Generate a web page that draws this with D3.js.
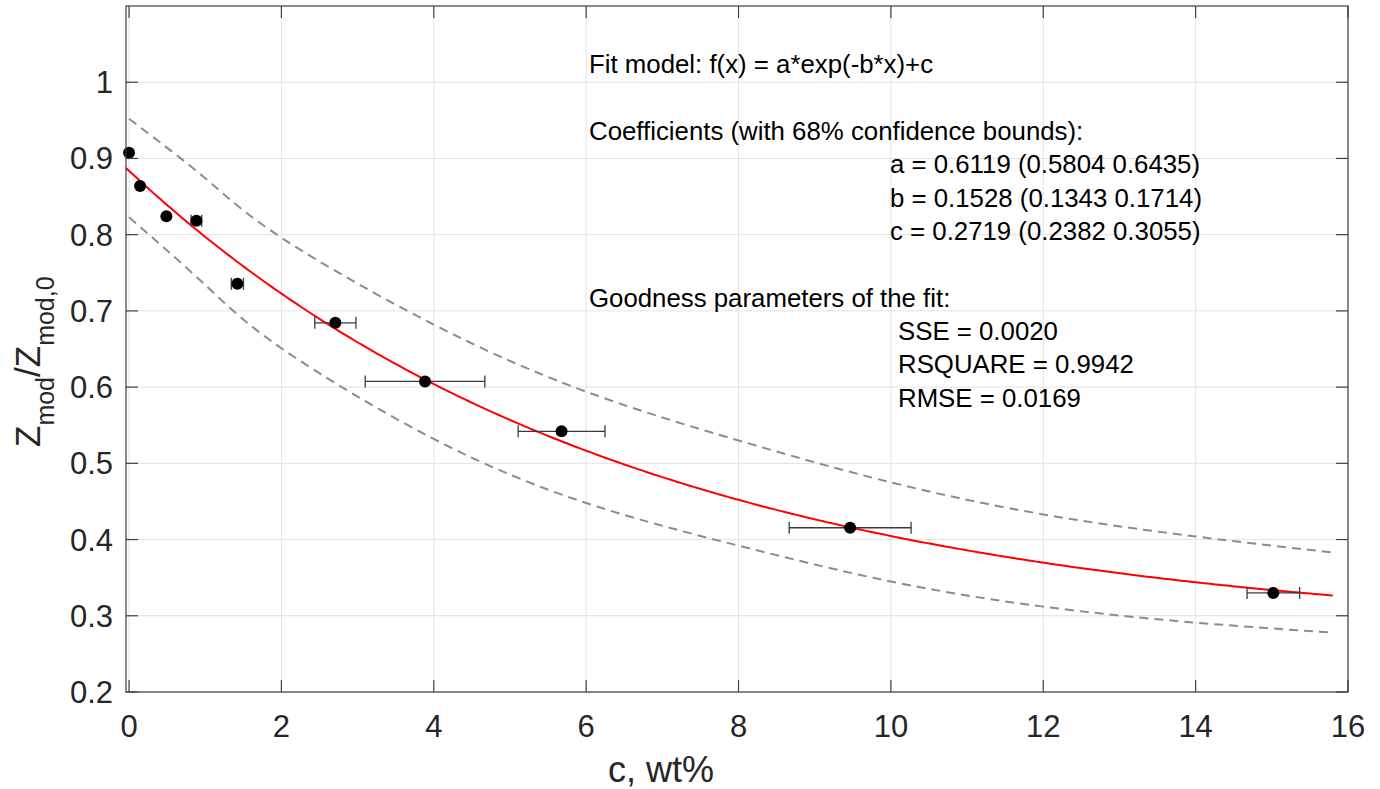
<!DOCTYPE html>
<html>
<head>
<meta charset="utf-8">
<script src="https://cdn.jsdelivr.net/npm/d3@7"></script>
<style>
  html, body { margin: 0; padding: 0; background: #fff; }
  svg { display: block; font-family: "Liberation Sans", Arial, Helvetica, sans-serif; }
</style>
</head>
<body>
<svg id="chart" width="1380" height="789"></svg>
<script>
// Measured concentration (wt%) with its uncertainty, and normalised impedance
const concentration = [0, 0.145, 0.49, 0.884, 1.422, 2.708, 3.885, 5.677, 9.465, 15.02];
const concentrationErr = [0, 0, 0, 0.07, 0.08, 0.27, 0.785, 0.57, 0.80, 0.345];
const zRatio = [0.9074, 0.8637, 0.8243, 0.8182, 0.7355, 0.6844, 0.6075, 0.542, 0.4155, 0.330];

// Fitted coefficients of f(x) = a*exp(-b*x)+c
const coefA = 0.6119;
const coefB = 0.1528;
const coefC = 0.2719;
const fitRange = [-0.04, 15.8];

// Prediction bounds of the fit
const boundX = [0, 1, 2, 4, 6, 8, 10, 12, 14, 15.8];
const boundUpper = [0.952, 0.874, 0.796, 0.682, 0.594, 0.530, 0.475, 0.433, 0.404, 0.383];
const boundLower = [0.823, 0.734, 0.651, 0.532, 0.448, 0.392, 0.345, 0.312, 0.291, 0.278];

// Axis ticks
const xTicks = [0, 2, 4, 6, 8, 10, 12, 14, 16];
const yTicks = [0.2, 0.3, 0.4, 0.5, 0.6, 0.7, 0.8, 0.9, 1.0];

// Fit report text
const modelLines = ["Fit model: f(x) = a*exp(-b*x)+c", "Coefficients (with 68% confidence bounds):"];
const coefLines = ["a = 0.6119 (0.5804 0.6435)", "b = 0.1528 (0.1343 0.1714)", "c = 0.2719 (0.2382 0.3055)"];
const goodnessTitle = "Goodness parameters of the fit:";
const goodnessLines = ["SSE = 0.0020", "RSQUARE = 0.9942", "RMSE = 0.0169"];

const svg = d3.select("#chart");
const plot = { left: 126, right: 1348, top: 6, bottom: 692 };

const x = d3.scaleLinear().domain([-0.04, 16]).range([plot.left, plot.right]);
const y = d3.scaleLinear().domain([0.2, 1.1]).range([plot.bottom, plot.top]);

// Grid
const grid = svg.append("g").attr("stroke", "#e3e3e3").attr("stroke-width", 1);
grid.selectAll("line.gx").data(xTicks).join("line")
  .attr("x1", d => x(d)).attr("x2", d => x(d))
  .attr("y1", plot.top).attr("y2", plot.bottom);
grid.selectAll("line.gy").data(yTicks).join("line")
  .attr("x1", plot.left).attr("x2", plot.right)
  .attr("y1", d => y(d)).attr("y2", d => y(d));

// Prediction bounds (dashed)
const boundLine = d3.line().curve(d3.curveNatural).x(d => x(d[0])).y(d => y(d[1]));
[boundUpper, boundLower].forEach(b => {
  svg.append("path")
    .datum(boundX.map((v, i) => [v, b[i]]))
    .attr("d", boundLine)
    .attr("fill", "none")
    .attr("stroke", "#8c8c8c")
    .attr("stroke-width", 2)
    .attr("stroke-dasharray", "9,6");
});

// Fitted curve
const fitX = d3.range(fitRange[0], fitRange[1], 0.05).concat([fitRange[1]]);
svg.append("path")
  .datum(fitX.map(v => [v, coefA * Math.exp(-coefB * v) + coefC]))
  .attr("d", d3.line().x(d => x(d[0])).y(d => y(d[1])))
  .attr("fill", "none")
  .attr("stroke", "#ff0000")
  .attr("stroke-width", 2);

// Horizontal error bars
const pts = concentration.map((c, i) => ({ c, e: concentrationErr[i], z: zRatio[i] }));
const eb = svg.append("g").attr("stroke", "#3a3a3a").attr("stroke-width", 1.3);
pts.filter(p => p.e > 0).forEach(p => {
  eb.append("line").attr("x1", x(p.c - p.e)).attr("x2", x(p.c + p.e)).attr("y1", y(p.z)).attr("y2", y(p.z));
  [p.c - p.e, p.c + p.e].forEach(v => {
    eb.append("line").attr("x1", x(v)).attr("x2", x(v)).attr("y1", y(p.z) - 6).attr("y2", y(p.z) + 6);
  });
});

// Data points
svg.append("g").selectAll("circle").data(pts).join("circle")
  .attr("cx", d => x(d.c)).attr("cy", d => y(d.z)).attr("r", 6)
  .attr("fill", "#000");

// Axes box with inward ticks on all sides
const axisColor = "#404040";
const tickLen = 12;
const ax = svg.append("g").attr("stroke", axisColor).attr("stroke-width", 1.2);
ax.append("rect").attr("x", plot.left).attr("y", plot.top)
  .attr("width", plot.right - plot.left).attr("height", plot.bottom - plot.top)
  .attr("fill", "none");
xTicks.forEach(t => {
  ax.append("line").attr("x1", x(t)).attr("x2", x(t)).attr("y1", plot.bottom).attr("y2", plot.bottom - tickLen);
  ax.append("line").attr("x1", x(t)).attr("x2", x(t)).attr("y1", plot.top).attr("y2", plot.top + tickLen);
});
yTicks.forEach(t => {
  ax.append("line").attr("x1", plot.left).attr("x2", plot.left + tickLen).attr("y1", y(t)).attr("y2", y(t));
  ax.append("line").attr("x1", plot.right).attr("x2", plot.right - tickLen).attr("y1", y(t)).attr("y2", y(t));
});

// Tick labels
const tickFont = 31;
svg.append("g").selectAll("text").data(xTicks).join("text")
  .attr("x", d => x(d)).attr("y", plot.bottom + 45)
  .attr("text-anchor", "middle").attr("font-size", tickFont).attr("fill", "#262626")
  .text(d => d3.format("d")(d));
svg.append("g").selectAll("text").data(yTicks).join("text")
  .attr("x", plot.left - 13).attr("y", d => y(d) + 11)
  .attr("text-anchor", "end").attr("font-size", tickFont).attr("fill", "#262626")
  .text(d => d3.format("~g")(d));

// Axis titles
svg.append("text")
  .attr("x", 661).attr("y", 782)
  .attr("text-anchor", "middle").attr("font-size", 36).attr("fill", "#262626")
  .text("c, wt%");

const yl = svg.append("text")
  .attr("transform", "translate(40,447) rotate(-90)")
  .attr("text-anchor", "start").attr("font-size", 35).attr("fill", "#262626");
yl.append("tspan").text("Z");
yl.append("tspan").attr("font-size", 25).attr("dy", 14).text("mod");
yl.append("tspan").attr("dy", -14).text("/Z");
yl.append("tspan").attr("font-size", 25).attr("dy", 14).text("mod,0");

// Fit report
const report = svg.append("g").attr("font-size", 25.8).attr("fill", "#000");
const lineH = 33.35;
report.append("text").attr("x", 589).attr("y", 73.3).text(modelLines[0]);
report.append("text").attr("x", 589).attr("y", 73.3 + 2 * lineH).text(modelLines[1]);
coefLines.forEach((s, i) => {
  report.append("text").attr("x", 890).attr("y", 73.3 + (3 + i) * lineH).text(s);
});
report.append("text").attr("x", 589).attr("y", 73.3 + 7 * lineH).text(goodnessTitle);
goodnessLines.forEach((s, i) => {
  report.append("text").attr("x", 898).attr("y", 73.3 + (8 + i) * lineH).text(s);
});
</script>
</body>
</html>
